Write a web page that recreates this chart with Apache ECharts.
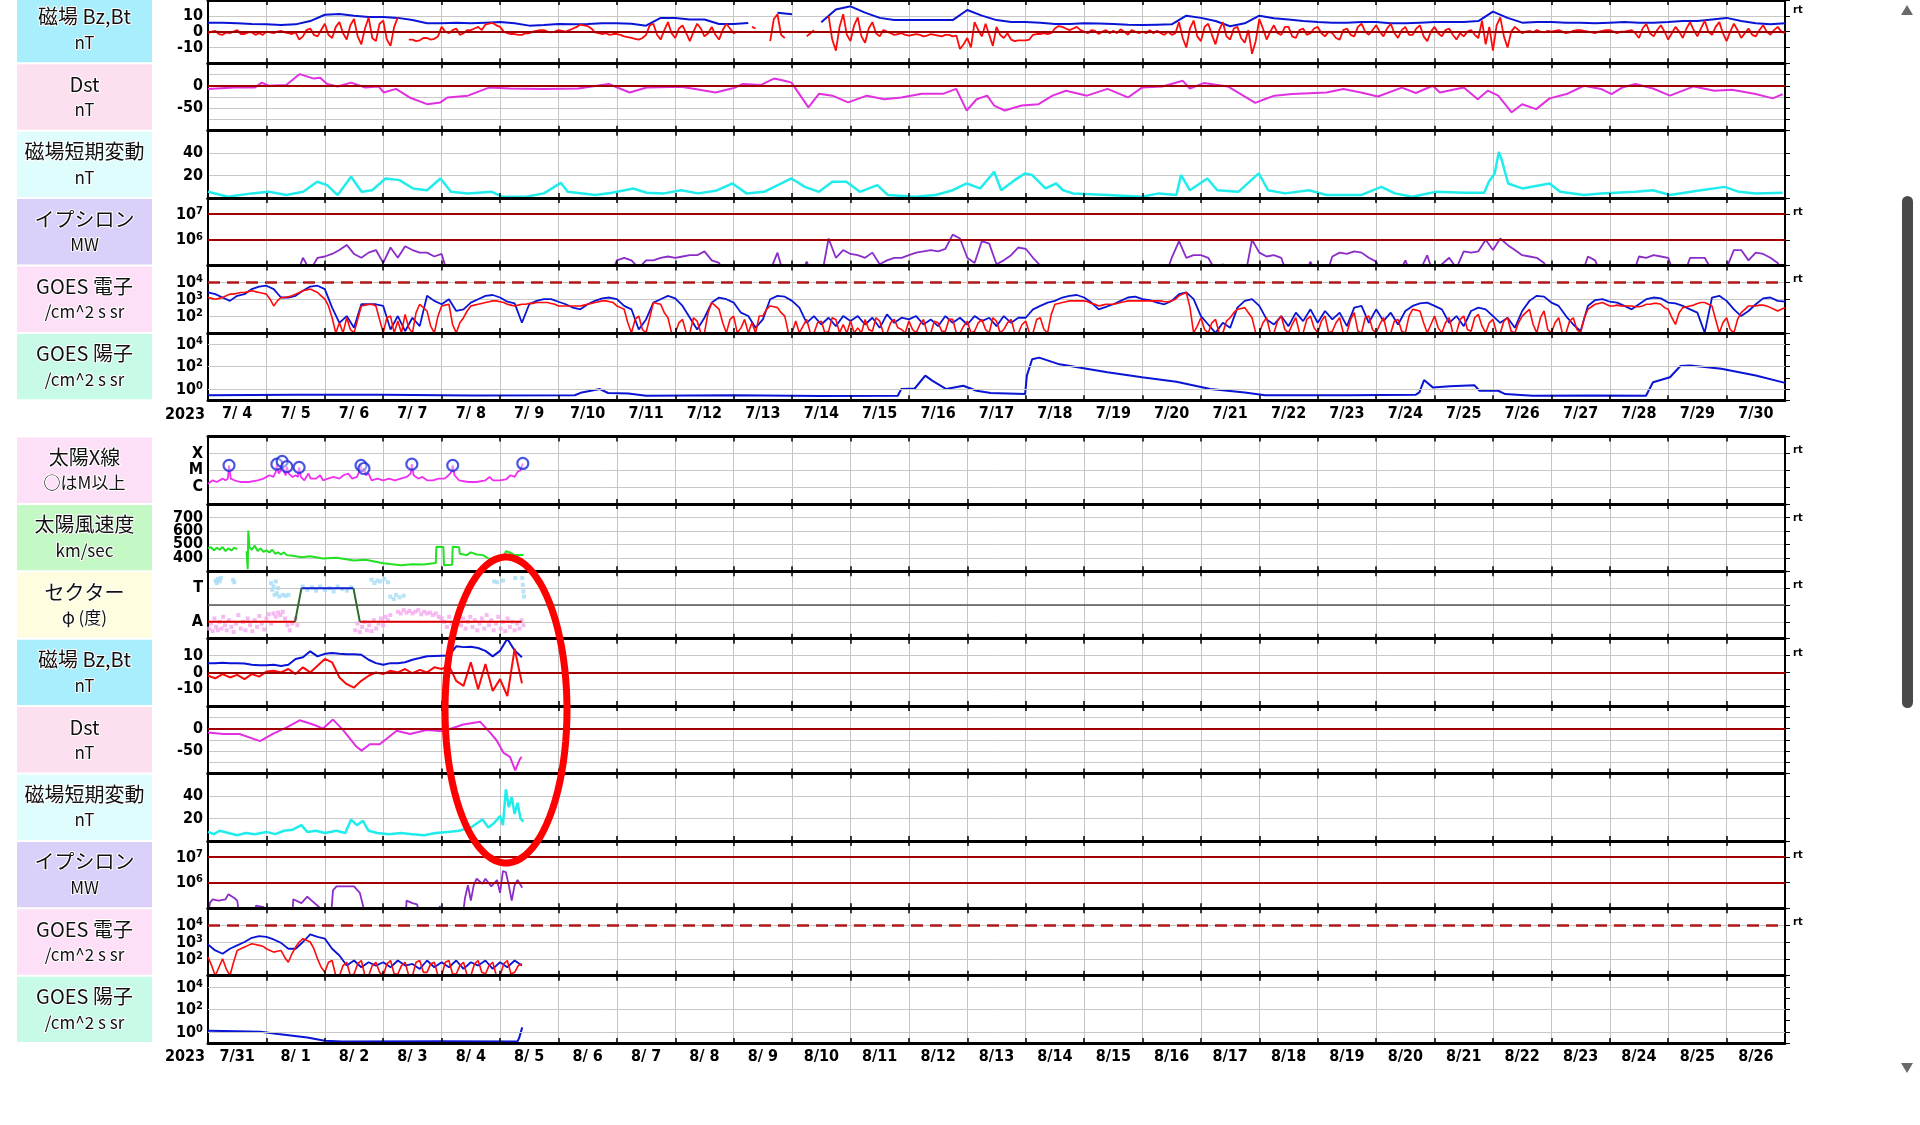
<!DOCTYPE html>
<html><head><meta charset="utf-8">
<script src="https://cdn.jsdelivr.net/npm/echarts@6/dist/echarts.min.js"></script>
<style>html,body{margin:0;padding:0;background:#fff;overflow:hidden}#c{width:1920px;height:1125px}</style>
</head><body><div id="c"></div>
<script>
// ================= DATA (time in days from the first date of each panel) =================
const topDateLabels = ['7/ 4','7/ 5','7/ 6','7/ 7','7/ 8','7/ 9','7/10','7/11','7/12','7/13','7/14','7/15','7/16','7/17','7/18','7/19','7/20','7/21','7/22','7/23','7/24','7/25','7/26','7/27','7/28','7/29','7/30'];
const bottomDateLabels = ['7/31','8/ 1','8/ 2','8/ 3','8/ 4','8/ 5','8/ 6','8/ 7','8/ 8','8/ 9','8/10','8/11','8/12','8/13','8/14','8/15','8/16','8/17','8/18','8/19','8/20','8/21','8/22','8/23','8/24','8/25','8/26'];
const yearLabel = '2023';

// ---- upper panel (7/4 - 7/30) ----
// Bt (nT), every 6 h
const btTop = [5.7,5.7,5.3,4.8, 4.6,4.2,4.6,6.7, 10.7,11.1,10.1,9.3, 9.3,8.7,7.3,5.3, 5.3,5.7,5.3,5.7, 6.1,5.3,3.8,4.2, 4.8,4.6,4.8,5.3, 5.3,5.0,3.8,8.7, 8.7,7.7,7.7,4.8, 4.8,5.5,null,12, 11,null,6,14, 16,12,8.7,7.3, 7.3,7.3,7.3,7.3, 13.7,10.1,7.3,6.1, 6.1,5.7,4.8,4.8, 5.3,5.1,4.8,4.4, 4.2,4.4,4.6,10.1, 8.7,6.7,3.4,5.3, 10.1,8.5,7.7,6.7, 6.1,5.7,5.7,6.1, 6.1,5.3,5.3,5.7, 6.1,6.1,6.1,6.7, 12.7,8.7,5.7,6.1, 6.1,5.7,5.7,5.3, 5.7,6.1,5.7,5.7, 6.1,6.7,6.7,7.7, 8.7,6.7,5.3,4.6, 5.3];
// Bz (nT), every 1.5 h
const bzTop = [
 -1,0,0.5,-1.5,-2,-0.5,-1,0,1,-1.5,-1.5,-0.5,-0.5,-2,-1,-2,
 0,-0.5,-1,0,0.5,-0.5,-1,-1.5,-0.5,-5,-3,1,2,-2,-3,1,
 5,-2,-4,3,6,-1,-5,4,8,-3,-8,2,9,-4,-6,5,
 7,-5,-9,3,9,null,null,-5,-5,-6,-5.5,-4,-4,-5,-4.5,-3,
 3,0,-1,1,2,-2,-1,1,1,2,3,1,4.5,5,5.5,4,
 3,0,-1,-1.5,-1.5,-2,-2,-1,-1,0,0.5,1,1,0,-0.5,0,
 1,0.5,0,1,2,3,4.5,4,3.5,2,-0.5,-1,-1.5,-1,-2,-1.5,
 -1.5,-2,-3,-3.5,-4,-4.5,-5,-4,-2,4,5,-2,-5,1,6,-1,
 -4,2,4,-1,-6,0,5,2,-3,-1,3,-2,-5,1,5,2,
 -1,0,null,null,null,3,2,null,null,null,-6,8,11,-2,-4,null,
 null,null,null,null,-3,-1,1,null,null,null,10,-5,-12,3,11,-2,
 -6,4,9,-3,-7,2,6,-1,-3,1,0,-1,-2,-1.5,-1,-2,
 -2.5,-2,-1.5,-2,-3,-2.5,-1.5,-2,-2.5,-3,-2,-2,-3,-2.5,-11,-8,
 -4,-10,6,1,-3,5,-2,-9,3,-2,-4,-1,-5,-6,-5.5,-5.5,
 -5.5,-5,-2,-1.5,-1.5,-1,-1.5,-1,2,3.5,3,2,1,2,3,1,
 0,-1,1,0.5,-1.5,0,1,-1,0.5,-1,1.5,0,-2,1,0,-1,
 0,-1,1,-1,0.5,-1,-2,0,-2,-1,6,-4,-10,2,7,-3,
 -6,3,5,-2,-8,1,6,-3,-5,2,3,-4,-7,1,-14,-6,
 8,2,-5,0,4,-1,-2,3,3,-3,-4,1,2,-2,-1,2,
 3,-1,-3,0,-1,-4,-5,1,2,-2,-3,3,5,0,-2,1,
 4,0,-3,2,5,-1,-4,1,3,-2,-2,2,4,-3,-6,0,
 3,-1,-3,1,2,-2,-5,-1,-3,0,1,-2,-4,7,-8,3,
 -12,4,9,-3,-10,0,3,1,-1,0,0.5,-0.5,1,0,-0.5,0.5,
 0,0.5,1,0,-1,-0.5,0.5,1,1,0.5,0,-0.5,-1,0,0.5,1,
 1,0,-1,0,0,0.5,1,-1,-4,2,5,-1,-3,1,4,0,
 -5,-1,3,0,-4,2,6,1,-3,2,7,0,-2,3,6,-1,
 -6,0,5,1,-4,-1,2,-2,-3,1,4,0,-2,1,3,0,
 -1];
// Dst (nT) [day, value]
const dstTop = [[0,-7],[0.45,-4],[0.8,-4],[0.92,7],[1.04,0],[1.34,1.5],[1.57,26],[1.81,16],[1.92,18],[2.04,4],[2.22,-1.5],[2.45,7],[2.69,-4],[2.92,-1.5],[3.01,-15],[3.22,-7],[3.45,-26],[3.75,-41],[3.98,-37],[4.1,-26],[4.45,-22],[4.81,-4],[5.16,-6],[5.75,-7],[6.34,-6],[6.86,4],[7.22,-15],[7.51,-4],[8.1,-2],[8.34,-7],[8.69,-15],[9.0,-5],[9.16,4],[9.46,1.5],[9.69,16],[9.87,11],[9.99,7],[10.28,-48],[10.46,-18],[10.69,-22],[10.96,-37],[11.28,-22],[11.58,-30],[11.87,-26],[12.22,-18],[12.58,-18],[12.81,-7],[12.99,-55],[13.16,-30],[13.34,-22],[13.46,-44],[13.64,-55],[13.93,-44],[14.22,-41],[14.46,-22],[14.69,-11],[15.05,-22],[15.4,-7],[15.75,-26],[15.99,-4],[16.34,-1.5],[16.69,11],[16.81,-6],[17.05,6],[17.46,-1.5],[17.93,-38],[18.09,-30],[18.26,-22],[18.56,-18.5],[19.15,-15],[19.44,-7],[19.74,-15],[20.03,-24],[20.44,-4],[20.68,-16],[20.97,0],[21.09,-15],[21.5,-4],[21.74,-30],[21.91,-11],[22.09,-22],[22.32,-59],[22.5,-41],[22.74,-52],[22.97,-28],[23.26,-18.5],[23.56,0],[23.85,-7],[24.03,-18.5],[24.21,-4],[24.44,4],[24.74,-6],[25.03,-22],[25.44,-1.5],[25.79,-11],[26.09,-9],[26.5,-18.5],[26.79,-28],[26.96,-18.5]];
// short-period geomagnetic variation (nT) [day, value]
const svTop = [[0,5.6],[0.34,1.2],[0.75,4.2],[1.04,5.6],[1.34,2.7],[1.63,5.6],[1.87,14.5],[2.04,11.6],[2.22,2.7],[2.45,19],[2.63,5.6],[2.81,7],[3.04,17.5],[3.28,16],[3.51,8.6],[3.75,7],[3.98,17.5],[4.16,5.6],[4.45,4.2],[4.86,5.6],[5.04,1.2],[5.45,1.2],[5.75,4.2],[6.04,13.6],[6.16,5.6],[6.63,2.7],[6.92,4.8],[7.28,8.6],[7.51,4.8],[7.81,4.2],[8.1,7],[8.39,4.2],[8.69,6.5],[8.98,13],[9.22,4.2],[9.52,5.6],[9.99,17.5],[10.22,10],[10.46,5.6],[10.69,14.5],[10.93,14.5],[11.16,5.6],[11.46,11.6],[11.64,2.7],[12.11,1.2],[12.46,2.7],[12.75,7],[12.99,13],[13.22,8.6],[13.46,23.4],[13.58,7],[13.81,16],[13.99,22],[14.11,20.5],[14.34,8.6],[14.52,13],[14.64,7],[14.81,4.2],[15.4,2.7],[15.99,1.2],[16.28,4.2],[16.58,2.7],[16.66,20.5],[16.81,7],[17.11,17.5],[17.28,7],[17.64,5.6],[17.99,22],[18.15,7],[18.44,4.2],[18.85,7],[19.15,2.7],[19.74,2.7],[20.09,10],[20.32,4.2],[20.62,1.2],[21.03,5.6],[21.5,4.8],[21.85,4.8],[21.93,14.5],[22.03,22],[22.1,41],[22.15,34],[22.26,13],[22.5,8.6],[22.97,13],[23.15,5.6],[23.56,2.7],[23.85,4.2],[24.44,5.6],[24.74,7],[25.03,2.7],[25.5,6.5],[25.97,10],[26.21,5.6],[26.5,4.2],[26.96,4.8]];
// epsilon, log10(MW), every 3 h (4.5 = below the axis)
const epsTopLog = [
 4.5,4.5,4.5,4.5,4.5,4.5,4.5,4.5,  4.5,4.5,4.5,4.5,4.5,5.3,4.8,5.3,  5.35,5.45,5.6,5.8,5.45,5.3,5.5,5.6,  5.1,5.7,5.3,5.75,5.6,5.5,5.5,5.35,
 5.45,4.5,4.5,4.5,4.5,4.5,4.5,4.5,  4.5,4.5,4.5,4.5,4.5,4.5,4.5,4.5,  4.5,4.5,4.5,4.5,4.5,4.5,4.5,4.5,  5.2,5.3,5.2,4.9,5.2,5.2,5.3,5.35,
 5.3,5.35,5.4,5.4,5.55,5.2,5.1,4.5,  4.5,4.5,4.5,4.5,4.5,4.8,5.5,4.5,  4.5,4.5,5.15,4.5,4.5,6.05,5.3,5.6,  5.45,5.4,5.3,5.5,5.05,5.2,5.3,5.3,
 5.4,5.5,5.55,5.6,5.55,5.65,6.2,6.05,  5.3,5.1,5.95,5.85,5.05,5.2,5.4,5.7,  5.65,5.3,5.0,4.5,4.5,4.5,4.5,4.5,  4.5,4.5,4.5,4.5,4.5,4.5,4.5,4.5,
 4.5,4.5,4.5,4.5,5.3,5.95,5.3,5.4,  5.4,5.3,4.8,5.05,4.5,4.5,4.5,6.0,  5.5,5.35,5.4,5.3,4.5,4.5,4.5,5.15,  4.5,4.5,5.35,5.5,5.45,5.55,5.5,5.3,
 5.15,4.5,4.5,4.6,5.2,4.5,4.8,5.4,  4.5,5.05,5.3,4.9,5.55,5.5,5.55,6.0,  5.6,6.05,5.8,5.6,5.4,5.35,5.3,5.1,  4.5,4.5,4.5,4.5,4.5,5.35,5.2,4.5,
 4.5,4.5,4.5,4.5,5.35,5.3,5.4,5.35,  5.3,4.5,4.5,5.3,5.3,5.3,4.8,4.5,  4.9,5.6,5.6,5.2,5.5,5.45,5.3,5.1,  4.5];
// GOES electrons, log10(/cm^2 s sr): blue every 3 h, red every 1.5 h
const elecBlueTopLog = [
 3.4,3.3,3.1,2.9,3.2,3.3,3.6,3.75,  3.8,3.6,3.1,3.1,3.2,3.5,3.75,3.8,  3.6,2.5,1.6,2.0,1.3,2.7,2.7,2.7,  2.6,1.2,2.0,1.1,1.9,1.4,3.2,2.9,
 2.7,3.0,2.3,2.4,2.8,3.0,3.2,3.25,  3.1,2.85,2.75,1.6,2.7,2.9,3.0,3.0,  2.85,2.7,2.5,2.4,2.7,2.9,3.05,3.1,  3.0,2.6,2.4,1.2,1.8,2.8,3.0,3.2,
 3.05,2.6,1.9,1.2,1.9,2.8,3.1,3.0,  2.8,2.2,2.0,1.3,1.8,3.0,3.2,3.15,  2.9,2.5,1.6,2.0,1.5,1.9,1.4,2.0,  1.7,2.0,1.5,1.9,1.3,2.1,1.6,1.9,
 1.8,2.0,1.5,1.8,1.4,2.0,1.6,1.9,  1.5,2.0,1.7,1.9,1.4,2.0,1.6,1.9,  1.9,2.4,2.6,2.8,2.9,3.1,3.2,3.25,  3.1,2.8,2.4,2.55,2.7,2.9,3.1,3.15,
 3.0,2.95,2.8,2.7,2.9,3.3,3.4,3.0,  2.0,1.5,1.0,1.6,1.3,2.5,2.9,3.0,  2.6,1.8,1.5,2.0,1.4,2.2,1.7,2.4,  1.6,2.3,1.8,2.2,1.4,2.5,2.6,1.6,
 2.4,1.7,2.2,1.5,2.3,2.6,2.75,2.8,  2.6,2.4,1.6,2.0,1.4,2.3,2.5,2.4,  2.0,1.6,1.9,1.3,2.3,2.9,3.2,3.15,  2.8,2.6,2.0,1.5,1.1,2.6,2.95,3.0,
 2.85,2.8,2.6,2.4,2.7,3.0,3.1,3.05,  2.8,2.75,2.6,2.4,2.2,1.0,3.1,3.2,  2.9,2.4,2.0,2.3,2.7,3.05,3.1,2.9,  2.85];
const elecRedTopLog = [
 3.1,3.05,3.0,3.05,3.1,3.2,3.3,3.3,3.35,3.4,3.4,3.45,3.5,3.45,3.4,3.35,
 3.3,3.0,2.6,2.9,3.1,3.1,3.15,3.2,3.3,3.4,3.5,3.55,3.6,3.5,3.4,3.2,
 3.0,2.6,1.9,1.0,1.6,1.0,1.9,1.2,1.0,1.8,2.6,2.65,2.7,2.7,2.6,1.8,
 1.0,1.9,2.0,1.0,1.7,1.0,2.1,1.3,1.0,2.2,2.7,2.5,2.3,1.4,1.0,2.0,
 2.6,2.65,2.7,1.5,1.0,1.6,1.9,2.3,2.6,2.65,2.7,2.75,2.8,2.85,2.9,2.9,
 2.85,2.8,2.7,2.65,2.6,2.65,2.7,2.7,2.75,2.75,2.8,2.8,2.8,2.8,2.75,2.7,
 2.6,2.6,2.6,2.6,2.6,2.6,2.6,2.65,2.7,2.75,2.8,2.85,2.9,2.9,2.85,2.8,
 2.6,2.5,2.4,1.6,1.0,1.8,2.0,1.2,1.0,1.9,2.8,2.75,2.7,2.2,1.9,1.0,
 1.0,1.6,1.8,1.0,1.0,1.9,1.7,1.0,1.0,2.2,2.8,2.6,2.4,1.6,1.0,1.8,
 2.0,1.0,1.3,1.8,1.0,1.6,1.0,2.0,2.0,2.4,2.6,2.55,2.5,2.2,2.0,1.0,
 1.0,1.7,1.0,1.4,1.8,1.0,1.0,1.6,1.7,1.0,1.1,1.9,1.8,1.0,1.5,1.0,
 1.7,1.0,1.3,1.0,1.8,1.2,1.1,1.9,1.7,1.0,1.0,1.6,1.8,1.3,1.2,1.0,
 1.7,1.2,1.0,1.5,1.8,1.0,1.0,1.7,1.6,1.1,1.1,1.8,1.8,1.0,1.0,1.4,
 1.7,1.0,1.1,1.6,1.8,1.2,1.0,1.9,1.7,1.0,1.2,1.6,1.8,1.0,1.0,1.5,
 1.7,1.0,1.0,1.8,1.9,1.2,1.0,2.1,2.7,2.75,2.8,2.85,2.9,2.9,2.9,2.9,
 2.9,2.85,2.75,2.7,2.6,2.65,2.7,2.7,2.7,2.75,2.8,2.85,2.9,2.9,2.9,2.9,
 2.9,2.9,2.9,2.9,2.9,2.9,2.85,2.85,2.9,3.0,3.2,3.3,3.4,2.5,1.0,1.4,
 1.9,1.2,1.0,1.6,1.8,1.0,1.0,1.7,1.9,2.2,2.4,2.45,2.5,2.2,1.9,1.0,
 1.0,1.6,1.9,1.0,1.0,1.7,2.0,1.2,1.0,1.5,1.9,1.0,1.0,1.8,2.0,1.3,
 1.0,1.7,2.0,1.0,1.1,1.6,1.9,1.0,1.0,1.8,2.2,1.1,1.0,1.9,2.0,1.2,
 1.0,1.5,1.9,1.0,1.0,1.7,1.8,1.1,1.0,2.0,2.4,2.35,2.3,1.6,1.0,1.5,
 2.0,1.3,1.0,1.6,1.9,1.0,1.0,1.8,2.0,1.2,1.1,1.9,2.1,1.4,1.0,1.6,
 1.8,1.0,1.0,1.7,1.9,1.1,1.0,1.6,2.0,2.2,2.4,1.5,1.0,1.9,2.3,1.2,
 1.0,1.6,1.9,1.0,1.0,1.7,1.9,1.2,1.0,1.9,2.4,2.55,2.7,2.75,2.8,2.7,
 2.6,2.6,2.65,2.6,2.6,2.6,2.6,2.55,2.55,2.6,2.7,2.7,2.75,2.75,2.7,2.5,
 2.4,1.9,1.5,2.2,2.5,2.55,2.6,2.65,2.75,2.8,2.8,2.7,2.6,1.8,1.0,1.6,
 1.9,1.2,1.0,1.8,2.2,2.4,2.6,2.6,2.6,2.65,2.65,2.6,2.5,2.4,2.3,2.4,
 2.5];
// GOES protons, log10 [day, value]
const protTopLog = [[0,-0.55],[1.5,-0.5],[3,-0.5],[4.5,-0.58],[6.28,-0.55],[6.4,-0.3],[6.71,0.0],[6.85,-0.35],[7.2,-0.4],[7.5,-0.6],[9,-0.55],[10.5,-0.62],[11.81,-0.6],[11.87,0.0],[12.1,0.05],[12.28,1.2],[12.4,0.75],[12.64,0.0],[12.93,0.3],[13.16,-0.15],[13.4,-0.35],[13.99,-0.45],[14.02,1.2],[14.11,2.65],[14.23,2.8],[14.58,2.2],[15.4,1.5],[15.99,1.05],[16.58,0.65],[17.16,0.0],[17.75,-0.3],[18.1,-0.55],[19.5,-0.55],[20.68,-0.5],[20.74,-0.3],[20.82,0.8],[20.97,0.15],[21.26,0.25],[21.68,0.35],[21.77,-0.15],[22.09,-0.15],[22.21,-0.45],[22.68,-0.6],[23.7,-0.58],[24.62,-0.6],[24.74,0.6],[25.03,1.05],[25.21,2.05],[25.38,2.1],[25.91,1.8],[26.5,1.2],[27,0.55]];

// ---- lower panel (7/31 - 8/26, data up to 8/5) ----
// solar X-ray flux, log10(W/m^2) [day, value]
const xrayLog = [[0,-5.8],[0.08,-5.6],[0.15,-5.7],[0.25,-5.5],[0.3,-5.6],[0.34,-5.5],[0.36,-4.71],[0.39,-5.5],[0.45,-5.6],[0.55,-5.7],[0.7,-5.7],[0.85,-5.6],[0.95,-5.5],[1.05,-5.3],[1.12,-5.4],[1.16,-5.1],[1.18,-4.64],[1.21,-5.2],[1.25,-5.0],[1.27,-4.48],[1.3,-5.1],[1.33,-5.3],[1.35,-4.79],[1.38,-5.2],[1.45,-5.4],[1.5,-5.3],[1.54,-5.4],[1.56,-4.83],[1.59,-5.4],[1.65,-5.6],[1.72,-5.2],[1.76,-5.5],[1.85,-5.5],[1.92,-5.3],[1.97,-5.6],[2.05,-5.5],[2.15,-5.4],[2.25,-5.5],[2.32,-5.3],[2.4,-5.2],[2.47,-5.5],[2.55,-5.4],[2.6,-5.0],[2.62,-4.71],[2.64,-5.1],[2.67,-4.9],[2.7,-5.3],[2.75,-5.2],[2.8,-5.6],[2.9,-5.5],[3.0,-5.6],[3.1,-5.5],[3.2,-5.6],[3.3,-5.5],[3.4,-5.4],[3.47,-5.2],[3.49,-4.64],[3.52,-5.3],[3.6,-5.5],[3.67,-5.4],[3.75,-5.6],[3.85,-5.6],[3.95,-5.5],[4.05,-5.5],[4.12,-5.3],[4.17,-5.1],[4.19,-4.71],[4.22,-5.3],[4.3,-5.6],[4.45,-5.7],[4.6,-5.7],[4.75,-5.6],[4.82,-5.4],[4.88,-5.6],[5.0,-5.6],[5.1,-5.55],[5.18,-5.3],[5.25,-5.4],[5.3,-5.1],[5.35,-5.0],[5.39,-4.6]];
// M-class (or above) flares, log10 peak
const flaresLog = [[0.36,-4.71],[1.18,-4.64],[1.27,-4.48],[1.35,-4.79],[1.56,-4.83],[2.62,-4.71],[2.67,-4.9],[3.49,-4.64],[4.19,-4.71],[5.39,-4.6]];
// solar wind speed (km/s) [day, value]
const swSpeed = [[0,470],[0.05,480],[0.1,455],[0.15,475],[0.2,460],[0.25,480],[0.3,450],[0.35,470],[0.4,455],[0.45,475],[0.5,465],[0.51,null],[0.66,450],[0.68,315],[0.69,603],[0.71,480],[0.75,460],[0.8,490],[0.85,450],[0.9,470],[0.95,445],[1.0,455],[1.05,440],[1.1,460],[1.15,430],[1.2,440],[1.25,425],[1.3,440],[1.35,420],[1.45,415],[1.6,405],[1.75,412],[1.97,395],[2.2,400],[2.5,380],[2.7,385],[3.0,360],[3.3,345],[3.5,352],[3.69,350],[3.9,362],[3.91,482],[4.03,480],[4.04,345],[4.18,348],[4.19,482],[4.3,478],[4.31,430],[4.43,420],[4.5,440],[4.6,425],[4.71,420],[4.8,395],[5.0,390],[5.06,395],[5.1,450],[5.17,440],[5.25,420],[5.4,420]];
// IMF sector: T = 3, A = 1 (breakpoints of the sector line)
const sectorDays = [0, 1.49, 1.6, 2.49, 2.6, 5.37];
const sectorVals = [1, 1, 3, 3, 1, 1];
const sectorPhiT = [[0.13,3.45],[0.15,3.3],[0.17,3.55],[0.2,3.4],[0.22,3.6],[0.43,3.5],[0.45,3.35],[1.08,3.3],[1.1,2.9],[1.12,3.1],[1.14,2.6],[1.16,3.4],[1.18,2.7],[1.2,3.0],[1.22,2.5],[1.28,2.6],[1.33,2.55],[1.38,2.6],[1.62,3.1],[1.7,2.9],[1.78,3.05],[1.85,2.85],[1.92,3.1],[2.0,2.9],[2.08,3.0],[2.15,2.8],[2.22,3.1],[2.3,2.95],[2.38,2.85],[2.45,3.05],[2.8,3.5],[2.85,3.3],[2.9,3.45],[2.95,3.4],[3.02,3.55],[3.08,3.35],[3.12,2.5],[3.18,2.35],[3.22,2.6],[3.28,2.45],[3.35,2.55],[4.9,3.4],[4.95,3.35],[5.05,3.45],[5.26,3.6],[5.38,3.6],[5.39,3.2],[5.4,2.8],[5.41,2.5]];
const sectorPhiA = [[0.02,0.6],[0.05,0.9],[0.08,0.45],[0.11,1.2],[0.14,0.7],[0.17,0.5],[0.2,1.0],[0.23,0.6],[0.26,1.3],[0.29,0.8],[0.32,0.5],[0.36,1.1],[0.4,0.7],[0.44,0.4],[0.48,0.9],[0.52,1.4],[0.56,0.6],[0.6,1.0],[0.64,0.5],[0.68,1.2],[0.72,0.8],[0.76,0.45],[0.8,1.1],[0.84,0.7],[0.88,1.35],[0.92,0.9],[0.96,0.55],[1.0,1.2],[1.04,1.45],[1.08,0.9],[1.12,1.5],[1.16,1.3],[1.2,1.55],[1.24,1.4],[1.28,1.6],[1.32,1.2],[1.36,0.8],[1.4,0.5],[1.44,0.9],[1.5,1.2],[1.53,0.8],[2.52,0.5],[2.56,0.9],[2.6,0.4],[2.64,0.7],[2.68,1.0],[2.72,0.5],[2.76,0.8],[2.8,0.45],[2.84,1.1],[2.88,0.6],[2.92,0.9],[2.96,1.2],[3.0,0.8],[3.04,1.3],[3.08,1.1],[3.12,1.4],[3.25,1.6],[3.3,1.5],[3.35,1.7],[3.4,1.55],[3.45,1.65],[3.5,1.5],[3.55,1.6],[3.6,1.7],[3.65,1.45],[3.7,1.6],[3.75,1.5],[3.8,1.55],[3.85,1.4],[3.9,1.5],[3.95,1.3],[4.0,1.2],[4.05,1.0],[4.09,0.7],[4.13,1.3],[4.17,0.9],[4.21,0.5],[4.25,1.1],[4.29,1.4],[4.33,0.8],[4.37,1.2],[4.41,0.6],[4.45,1.0],[4.49,1.3],[4.53,0.7],[4.57,1.1],[4.61,0.5],[4.65,0.9],[4.69,1.2],[4.73,0.6],[4.77,1.4],[4.81,0.8],[4.85,1.1],[4.89,0.5],[4.93,0.9],[4.97,1.3],[5.01,0.6],[5.05,1.0],[5.09,0.45],[5.13,1.2],[5.17,0.7],[5.21,1.0],[5.25,0.5],[5.29,0.9],[5.33,0.6],[5.37,1.1],[5.4,0.8]];
// Bt, Bz (nT), every 3 h
const btBot = [5.5,5.5,5.7,5.5,5.5,5.3,4.5,4.3, 4.3,4.5,3.8,4.5,8,9,12.5,9.5, 11,11.5,11,10.8,10.8,10.5,7.5,5.5, 4.5,5.5,5.5,6,7.5,8.5,9.6,9.8, 9.9,10,15.5,15,15.2,14.5,12.8,9.5, 12.8,20,13,9];
const bzBot = [-2,-3.5,-1,-3,-1.5,-4,-1,-2.5, 0.5,1,0,2,-1,3,0,4, 8,6,-3,-7,-9,-5,-2,0, -1,1,0,2,-0.5,1.5,0,3, 2,4,-5,-8,6,-10,5,-11, -4,-14,14,-6.5];
const dstBot = [[0,-9],[0.26,-12],[0.54,-12],[0.89,-28],[1.11,-12],[1.34,2],[1.57,18.5],[1.8,9],[1.97,0],[2.14,20],[2.31,-3],[2.54,-40],[2.63,-49],[2.77,-35],[2.94,-35],[3.23,-5],[3.46,-12],[3.74,-3],[4.03,-6],[4.37,9],[4.66,15],[4.83,-9],[4.94,-26],[5.06,-54],[5.17,-63],[5.26,-93],[5.34,-68],[5.37,-63]];
const svBot = [[0,8],[0.1,6],[0.2,9],[0.35,7],[0.5,5],[0.65,7],[0.8,6],[1.0,8],[1.15,6],[1.3,9],[1.45,10],[1.6,14],[1.7,8],[1.85,9],[2.0,7],[2.2,9],[2.35,7],[2.45,19],[2.55,14],[2.65,18],[2.75,9],[2.9,7],[3.1,6],[3.3,7],[3.5,6],[3.7,5],[3.9,7],[4.1,8],[4.3,9],[4.5,12],[4.7,19],[4.8,12],[4.9,16],[5.0,22],[5.05,14],[5.1,46],[5.15,30],[5.2,39],[5.25,24],[5.3,34],[5.35,20],[5.4,17]];
const epsBotLog = [[0,4.5],[0.03,5.2],[0.08,5.35],[0.18,5.3],[0.3,5.35],[0.35,5.55],[0.45,5.4],[0.5,5.3],[0.55,4.5],[0.8,4.5],[0.82,5.1],[0.95,5.05],[1.0,4.5],[1.44,4.5],[1.46,5.35],[1.6,5.2],[1.7,5.45],[1.8,5.25],[1.9,5.05],[1.95,4.5],[2.1,4.5],[2.14,5.7],[2.2,5.85],[2.5,5.85],[2.6,5.6],[2.66,5.05],[2.7,4.5],[3.38,4.5],[3.4,5.3],[3.5,5.2],[3.58,5.15],[3.65,4.5],[3.95,4.5],[3.97,5.1],[4.0,4.5],[4.35,4.5],[4.4,5.4],[4.45,5.9],[4.5,5.3],[4.55,5.9],[4.6,6.15],[4.7,5.95],[4.75,6.15],[4.85,5.85],[4.95,6.1],[5.0,5.6],[5.05,6.45],[5.1,6.4],[5.15,5.9],[5.2,5.3],[5.25,5.9],[5.3,6.1],[5.38,5.8]];
const elecBlueBotLog = [2.85,2.5,2.3,2.6,2.8,3.0,3.25,3.35, 3.3,3.15,2.95,2.6,2.6,3.0,3.45,3.3, 3.2,2.6,2.2,1.6,1.9,1.5,1.8,1.6, 1.8,1.5,1.9,1.6,1.7,1.4,1.9,1.5, 1.8,1.5,1.9,1.4,1.8,1.6,1.9,1.4, 1.8,1.5,1.9,1.6];
const elecRedBotLog = [
 2.1,1.6,1.0,1.5,2.0,1.4,1.0,1.8,2.5,2.6,2.7,2.8,2.9,2.85,2.8,2.75,
 2.6,2.5,2.4,2.45,2.5,2.1,1.8,2.3,2.7,3.0,3.2,3.1,3.0,2.6,2.0,1.5,
 1.2,1.8,1.9,1.0,1.0,1.6,1.8,1.0,1.1,1.7,1.9,1.0,1.0,1.6,1.8,1.2,
 1.0,1.7,1.9,1.1,1.1,1.6,1.8,1.0,1.0,1.8,1.9,1.2,1.2,1.7,1.8,1.0,
 1.0,1.8,1.9,1.1,1.1,1.6,1.8,1.0,1.0,1.7,1.9,1.2,1.1,1.6,1.8,1.0,
 1.0,1.7,1.9,1.1,1.2,1.6,1.7];
const protBotLog = [[0,0.1],[0.5,0.05],[0.9,0.0],[1.2,-0.2],[1.7,-0.5],[2.0,-0.8],[2.3,-0.85],[4.0,-0.83],[5.3,-0.85],[5.33,-0.5],[5.38,0.4]];

// ================= LAYOUT / STYLE =================
const FONT = '"DejaVu Sans Condensed","Liberation Sans Narrow","DejaVu Sans",sans-serif';
const JFONT = '"Noto Sans CJK JP","Noto Sans",sans-serif';
const ROW_H = 67.4, PLOT_L = 208, PLOT_W = 1577;
const gridTop = g => g < 6 ? -4.1 + ROW_H * g : 436.5 + ROW_H * (g - 6);
const kinds = ['bz','dst','sv','eps','elec','prot','xray','sw','sec','bz','dst','sv','eps','elec','prot'];
const titles = [['磁場 Bz,Bt','nT'],['Dst','nT'],['磁場短期変動','nT'],['イプシロン','MW'],['GOES 電子','/cm^2 s sr'],['GOES 陽子','/cm^2 s sr'],['太陽X線','○はM以上'],['太陽風速度','km/sec'],['セクター','φ (度)'],['磁場 Bz,Bt','nT'],['Dst','nT'],['磁場短期変動','nT'],['イプシロン','MW'],['GOES 電子','/cm^2 s sr'],['GOES 陽子','/cm^2 s sr']];
const boxColor = {bz:'#a8eefc', dst:'#fde0ef', sv:'#e0fdfd', eps:'#dbd0f9', elec:'#fde0f8', prot:'#c8fae8', xray:'#fde0f8', sw:'#c4f8c4', sec:'#fefde0'};
const rtRows = [0,3,4,6,7,8,9,12,13];
const sup = e => '{b|10}{s|' + e + '}';
const R = v => Math.round(v * 100) / 100;
const axisKind = {
  bz:  {min:-20, max:20, interval:10, split:true, fmt: v => ([10,0,-10].includes(R(v)) ? String(R(v)) : '')},
  dst: {min:-100, max:50, interval:25, split:true, fmt: v => ([0,-50].includes(R(v)) ? String(R(v)) : '')},
  sv:  {min:0, max:60, interval:20, split:true, fmt: v => ([20,40].includes(R(v)) ? String(R(v)) : '')},
  eps: {min:5, max:7.62, interval:1, split:false, fmt: v => ([6,7].includes(R(v)) ? sup(R(v)) : '')},
  elec:{min:1, max:5, interval:1, split:true, fmt: v => ([2,3,4].includes(R(v)) ? sup(R(v)) : '')},
  prot:{min:-1, max:5, interval:1, split:false, fmt: v => ([0,2,4].includes(R(v)) ? sup(R(v)) : '')},
  xray:{min:-7, max:-3, interval:1, split:true, fmt: v => ({'-4':'X','-5':'M','-6':'C'})[String(R(v))] || ''},
  sw:  {min:300, max:800, interval:100, split:true, fmt: v => (R(v) >= 400 && R(v) <= 700 ? String(R(v)) : '')},
  sec: {min:0, max:4, interval:1, split:true, fmt: v => (R(v) === 3 ? 'T' : (R(v) === 1 ? 'A' : ''))}
};
const RED_LINE = {color:'#a00000', width:2, type:'solid'};
const GRAY_LINE = {color:'#c8c8c8', width:1, type:'solid'};
const refLines = {
  bz: [{y:0, s:RED_LINE}], dst: [{y:0, s:RED_LINE}],
  eps: [{y:6, s:RED_LINE}, {y:7, s:RED_LINE}],
  elec: [{y:4, s:{color:'#b01818', width:2.5, type:[12,7]}}],
  prot: [{y:0, s:GRAY_LINE}, {y:2, s:GRAY_LINE}, {y:4, s:GRAY_LINE}],
  sec: [{y:2, s:{color:'#555555', width:1.5, type:'solid'}}]
};

const grids = [], xAxes = [], yAxes = [], series = [], graphics = [];
const labelStyle = {color:'#000', fontFamily:FONT, fontWeight:'bold', fontSize:16};
for (let g = 0; g < 15; g++) {
  const k = kinds[g], ak = axisKind[k];
  grids.push({left:PLOT_L, width:PLOT_W, top:gridTop(g), height:ROW_H});
  const xBase = {gridIndex:g, type:'value', min:0, max:27, interval:1, axisLabel:{show:false}};
  xAxes.push(Object.assign({}, xBase, {position:'bottom', axisLine:{show:false}, axisTick:{show:false}, splitLine:{show:true, lineStyle:{color:'#c4c4c4', width:1}}, z:0}));
  xAxes.push(Object.assign({}, xBase, {position:'bottom', axisLine:{show:true, onZero:false, lineStyle:{color:'#000', width:3}}, axisTick:{show:true, inside:true, length:5, lineStyle:{color:'#000', width:1.5}}, splitLine:{show:false}, z:6}));
  xAxes.push(Object.assign({}, xBase, {position:'top', axisLine:{show:true, onZero:false, lineStyle:{color:'#000', width:3}}, axisTick:{show:true, inside:true, length:5, lineStyle:{color:'#000', width:1.5}}, splitLine:{show:false}, z:6}));
  yAxes.push({gridIndex:g, type:'value', position:'left', min:ak.min, max:ak.max, interval:ak.interval,
    axisLine:{show:true, onZero:false, lineStyle:{color:'#000', width:2}}, axisTick:{show:false},
    axisLabel:Object.assign({margin:5, formatter:ak.fmt, showMinLabel:true, showMaxLabel:true,
      rich:{b:Object.assign({}, labelStyle, {fontSize:16, lineHeight:17, verticalAlign:'bottom'}), s:Object.assign({}, labelStyle, {fontSize:11, lineHeight:11, verticalAlign:'top'})}}, labelStyle),
    splitLine:{show:ak.split, lineStyle:{color:'#c8c8c8', width:1}}, z:0});
  yAxes.push({gridIndex:g, type:'value', position:'right', min:ak.min, max:ak.max, interval:ak.interval,
    axisLine:{show:true, onZero:false, lineStyle:{color:'#000', width:2}},
    axisTick:{show:true, inside:false, length:5, lineStyle:{color:'#000', width:1}}, axisLabel:{show:false}, splitLine:{show:false}, z:0});
  if (refLines[k]) {
    series.push({type:'line', xAxisIndex:3*g, yAxisIndex:2*g, data:[], z:1, silent:true, animation:false,
      markLine:{silent:true, symbol:['none','none'], label:{show:false}, animation:false,
        emphasis:{disabled:true}, data: refLines[k].map(l => ({yAxis:l.y, lineStyle:l.s}))}});
  }
}
// date label axes (labels centered on each day)
xAxes.push({gridIndex:5, type:'category', data:topDateLabels, position:'bottom', boundaryGap:true, axisLine:{show:false}, axisTick:{show:false}, splitLine:{show:false}, axisLabel:Object.assign({margin:6, interval:0}, labelStyle)});
xAxes.push({gridIndex:14, type:'category', data:bottomDateLabels, position:'bottom', boundaryGap:true, axisLine:{show:false}, axisTick:{show:false}, splitLine:{show:false}, axisLabel:Object.assign({margin:6, interval:0}, labelStyle)});

const uni = (arr, step) => arr.map((v, i) => [i * step, v]);
function line(g, data, color, width, extra) {
  series.push(Object.assign({type:'line', xAxisIndex:3*g, yAxisIndex:2*g, data:data, showSymbol:false, symbol:'none',
    lineStyle:{color:color, width:width}, itemStyle:{color:color}, z:2, silent:true, animation:false, connectNulls:false}, extra || {}));
}
const BLUE = '#0a14d4', RED = '#ff0a0a', MAG = '#e030e0', CYAN = '#20ecec', PURP = '#8a2cc8', GREEN = '#22e022';
// upper panel
line(0, uni(btTop, 0.25), BLUE, 2);
line(0, uni(bzTop, 0.0625), RED, 1.8);
line(1, dstTop, MAG, 2);
line(2, svTop, CYAN, 2.5);
line(3, uni(epsTopLog, 0.125), PURP, 1.8);
line(4, uni(elecBlueTopLog, 0.125), BLUE, 1.8);
line(4, uni(elecRedTopLog, 0.0625), RED, 1.6);
line(5, protTopLog, BLUE, 2);
// lower panel
line(6, xrayLog, '#f030f0', 1.8);
series.push({type:'scatter', xAxisIndex:18, yAxisIndex:12, data:flaresLog, symbol:'circle', symbolSize:11, z:3, silent:true, animation:false,
  itemStyle:{color:'rgba(255,255,255,0.5)', borderColor:'#1a2ad8', borderWidth:2.2}});
line(7, swSpeed, GREEN, 2);
series.push({type:'scatter', xAxisIndex:24, yAxisIndex:16, data:sectorPhiA, symbol:'rect', symbolSize:4, z:2, silent:true, animation:false, itemStyle:{color:'#f4a8ee'}});
series.push({type:'scatter', xAxisIndex:24, yAxisIndex:16, data:sectorPhiT, symbol:'rect', symbolSize:4, z:2, silent:true, animation:false, itemStyle:{color:'#a4dcf4'}});
(function () {
  const segs = {'#e00000':[], '#1020d0':[], '#2a6a2a':[]};
  for (let i = 0; i < sectorDays.length - 1; i++) {
    const a = sectorVals[i], b = sectorVals[i + 1];
    const c = a === b ? (a === 1 ? '#e00000' : '#1020d0') : '#2a6a2a';
    segs[c].push([sectorDays[i], a], [sectorDays[i + 1], b], [sectorDays[i + 1], null]);
  }
  Object.keys(segs).forEach(c => line(8, segs[c], c, 2, {z:4}));
})();
line(9, uni(btBot, 0.125), BLUE, 2);
line(9, uni(bzBot, 0.125), RED, 2);
line(10, dstBot, MAG, 2);
line(11, svBot, CYAN, 2.5);
line(12, epsBotLog, PURP, 1.8);
line(13, uni(elecBlueBotLog, 0.125), BLUE, 1.8);
line(13, uni(elecRedBotLog, 0.0625), RED, 1.6);
line(14, protBotLog, BLUE, 2);

// ================= GRAPHICS (row titles, notes, annotation) =================
for (let g = 0; g < 15; g++) {
  const t = gridTop(g);
  graphics.push({type:'rect', shape:{x:17, y:t + 1, width:135, height:ROW_H - 2}, style:{fill:boxColor[kinds[g]]}, z:10, silent:true});
  graphics.push({type:'text', x:84.5, y:t + 0.31 * ROW_H, z:11, silent:true,
    style:{text:titles[g][0], font:'20px ' + JFONT, fill:'#111', align:'center', verticalAlign:'middle', textAlign:'center', textVerticalAlign:'middle', stroke:'#ffffff', lineWidth:2}});
  graphics.push({type:'text', x:84.5, y:t + 0.69 * ROW_H, z:11, silent:true,
    style:{text:titles[g][1], font:'17px ' + JFONT, fill:'#111', align:'center', verticalAlign:'middle', textAlign:'center', textVerticalAlign:'middle', stroke:'#ffffff', lineWidth:2}});
}
rtRows.forEach(g => graphics.push({type:'text', x:1793, y:gridTop(g) + 14, z:11, silent:true,
  style:{text:'rt', font:'bold 11px ' + FONT, fill:'#000', align:'left', verticalAlign:'middle', textAlign:'left', textVerticalAlign:'middle'}}));
[415, 1057].forEach(y => graphics.push({type:'text', x:185, y:y, z:11, silent:true,
  style:{text:yearLabel, font:'bold 16px ' + FONT, fill:'#000', align:'center', verticalAlign:'middle', textAlign:'center', textVerticalAlign:'middle'}}));
// red ellipse annotation
(function () {
  const pts = [];
  for (let i = 0; i < 90; i++) { const a = i / 90 * 2 * Math.PI; pts.push([506 + 61 * Math.cos(a), 710 + 153 * Math.sin(a)]); }
  graphics.push({type:'polygon', shape:{points:pts}, style:{fill:'none', stroke:'#ff0000', lineWidth:7}, z:50, silent:true});
})();
// browser scrollbar
graphics.push({type:'rect', shape:{x:1902, y:196, width:11, height:512, r:5.5}, style:{fill:'#4a4a4a'}, z:10, silent:true});
graphics.push({type:'polygon', shape:{points:[[1901,15],[1913,15],[1907,5]]}, style:{fill:'#6a6a6a'}, z:10, silent:true});
graphics.push({type:'polygon', shape:{points:[[1901,1063],[1913,1063],[1907,1073]]}, style:{fill:'#6a6a6a'}, z:10, silent:true});

const chart = echarts.init(document.getElementById('c'), null, {renderer:'canvas', width:1920, height:1125});
chart.setOption({animation:false, backgroundColor:'#ffffff', grid:grids, xAxis:xAxes, yAxis:yAxes, series:series, graphic:{elements:graphics}});
</script>
</body></html>
